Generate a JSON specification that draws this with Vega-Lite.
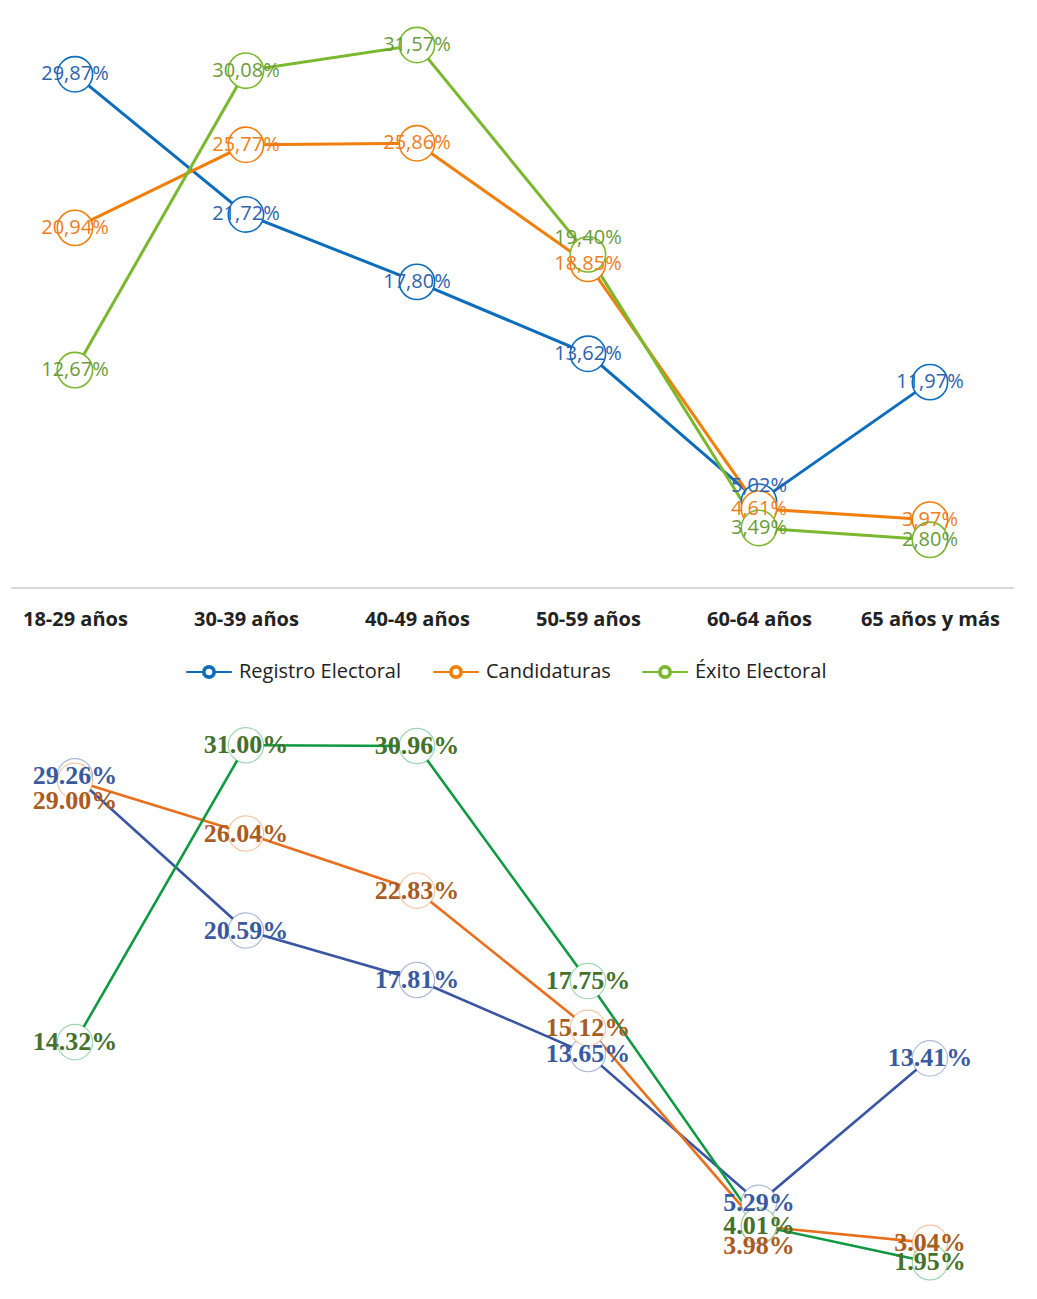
{
  "$schema": "https://vega.github.io/schema/vega-lite/v6.json",
  "background": "white",
  "padding": {"left": 10, "top": 0, "right": 0, "bottom": 0},
  "config": {"view": {"stroke": null}},
  "datasets": {
    "top": [
      {"grupo": "18-29 años", "serie": "Registro Electoral", "valor": 29.87, "etiqueta": "29,87%"},
      {"grupo": "30-39 años", "serie": "Registro Electoral", "valor": 21.72, "etiqueta": "21,72%"},
      {"grupo": "40-49 años", "serie": "Registro Electoral", "valor": 17.80, "etiqueta": "17,80%"},
      {"grupo": "50-59 años", "serie": "Registro Electoral", "valor": 13.62, "etiqueta": "13,62%"},
      {"grupo": "60-64 años", "serie": "Registro Electoral", "valor": 5.02, "etiqueta": "5,02%"},
      {"grupo": "65 años y más", "serie": "Registro Electoral", "valor": 11.97, "etiqueta": "11,97%"},
      {"grupo": "18-29 años", "serie": "Candidaturas", "valor": 20.94, "etiqueta": "20,94%"},
      {"grupo": "30-39 años", "serie": "Candidaturas", "valor": 25.77, "etiqueta": "25,77%"},
      {"grupo": "40-49 años", "serie": "Candidaturas", "valor": 25.86, "etiqueta": "25,86%"},
      {"grupo": "50-59 años", "serie": "Candidaturas", "valor": 18.85, "etiqueta": "18,85%"},
      {"grupo": "60-64 años", "serie": "Candidaturas", "valor": 4.61, "etiqueta": "4,61%"},
      {"grupo": "65 años y más", "serie": "Candidaturas", "valor": 3.97, "etiqueta": "3,97%"},
      {"grupo": "18-29 años", "serie": "Éxito Electoral", "valor": 12.67, "etiqueta": "12,67%"},
      {"grupo": "30-39 años", "serie": "Éxito Electoral", "valor": 30.08, "etiqueta": "30,08%"},
      {"grupo": "40-49 años", "serie": "Éxito Electoral", "valor": 31.57, "etiqueta": "31,57%"},
      {"grupo": "50-59 años", "serie": "Éxito Electoral", "valor": 19.40, "etiqueta": "19,40%"},
      {"grupo": "60-64 años", "serie": "Éxito Electoral", "valor": 3.49, "etiqueta": "3,49%"},
      {"grupo": "65 años y más", "serie": "Éxito Electoral", "valor": 2.80, "etiqueta": "2,80%"}
    ],
    "bottom": [
      {"grupo": "18-29 años", "serie": "Registro Electoral", "valor": 29.26, "etiqueta": "29.26%"},
      {"grupo": "30-39 años", "serie": "Registro Electoral", "valor": 20.59, "etiqueta": "20.59%"},
      {"grupo": "40-49 años", "serie": "Registro Electoral", "valor": 17.81, "etiqueta": "17.81%"},
      {"grupo": "50-59 años", "serie": "Registro Electoral", "valor": 13.65, "etiqueta": "13.65%"},
      {"grupo": "60-64 años", "serie": "Registro Electoral", "valor": 5.29, "etiqueta": "5.29%"},
      {"grupo": "65 años y más", "serie": "Registro Electoral", "valor": 13.41, "etiqueta": "13.41%"},
      {"grupo": "18-29 años", "serie": "Candidaturas", "valor": 29.00, "etiqueta": "29.00%"},
      {"grupo": "30-39 años", "serie": "Candidaturas", "valor": 26.04, "etiqueta": "26.04%"},
      {"grupo": "40-49 años", "serie": "Candidaturas", "valor": 22.83, "etiqueta": "22.83%"},
      {"grupo": "50-59 años", "serie": "Candidaturas", "valor": 15.12, "etiqueta": "15.12%"},
      {"grupo": "60-64 años", "serie": "Candidaturas", "valor": 3.98, "etiqueta": "3.98%"},
      {"grupo": "65 años y más", "serie": "Candidaturas", "valor": 3.04, "etiqueta": "3.04%"},
      {"grupo": "18-29 años", "serie": "Éxito Electoral", "valor": 14.32, "etiqueta": "14.32%"},
      {"grupo": "30-39 años", "serie": "Éxito Electoral", "valor": 31.00, "etiqueta": "31.00%"},
      {"grupo": "40-49 años", "serie": "Éxito Electoral", "valor": 30.96, "etiqueta": "30.96%"},
      {"grupo": "50-59 años", "serie": "Éxito Electoral", "valor": 17.75, "etiqueta": "17.75%"},
      {"grupo": "60-64 años", "serie": "Éxito Electoral", "valor": 4.01, "etiqueta": "4.01%"},
      {"grupo": "65 años y más", "serie": "Éxito Electoral", "valor": 1.95, "etiqueta": "1.95%"}
    ]
  },
  "vconcat": [
    {
      "width": 1003,
      "height": 588,
      "data": {"name": "top"},
      "encoding": {
        "x": {
          "field": "grupo", "type": "ordinal",
          "scale": {"type": "point", "domain": ["18-29 años", "30-39 años", "40-49 años", "50-59 años", "60-64 años", "65 años y más"], "padding": 0.4327, "align": 0.432},
          "axis": {"title": null, "domain": false, "ticks": false, "labelAngle": 0, "labelFont": "Open Sans", "labelFontSize": 20, "labelFontWeight": "bold", "labelColor": "#222222", "labelPadding": 21}
        },
        "y": {"field": "valor", "type": "quantitative", "scale": {"domain": [0, 34.19], "nice": false}, "axis": null}
      },
      "layer": [
        {
          "mark": {"type": "rule", "color": "#d9d9d9", "strokeWidth": 2},
          "encoding": {"x": {"value": 0}, "x2": {"value": "width"}, "y": {"datum": 0, "type": "quantitative"}}
        },
        {
          "mark": {"type": "line", "strokeWidth": 3},
          "encoding": {
            "stroke": {
              "field": "serie", "type": "nominal",
              "scale": {"domain": ["Registro Electoral", "Candidaturas", "Éxito Electoral"], "range": ["#0d6dbd", "#f07f0c", "#7ab82e"]},
              "legend": {
                "orient": "none", "legendX": 185, "legendY": 659, "direction": "horizontal", "title": null,
                "symbolType": "M-1.9,0L-0.5,0M0.5,0L1.9,0M0.5,0A0.5,0.5,0,1,1,-0.5,0A0.5,0.5,0,1,1,0.5,0ZM0.36,0A0.36,0.36,0,1,0,-0.36,0A0.36,0.36,0,1,0,0.36,0Z",
                "symbolSize": 576, "symbolStrokeWidth": 2,
                "labelFont": "Open Sans", "labelFontSize": 20, "labelColor": "#222222", "labelOffset": 17, "labelLimit": 400, "columnPadding": 27
              }
            }
          }
        },
        {
          "mark": {"type": "circle", "fill": "white", "fillOpacity": 1, "size": 1250, "strokeWidth": 1.6},
          "encoding": {"stroke": {"field": "serie", "type": "nominal"}}
        },
        {
          "transform": [{"filter": "!(datum.serie == 'Éxito Electoral' && datum.grupo == '50-59 años') && !(datum.serie == 'Registro Electoral' && datum.grupo == '60-64 años')"}],
          "mark": {"type": "text", "font": "Open Sans", "fontSize": 20, "align": "center", "baseline": "middle"},
          "encoding": {
            "text": {"field": "etiqueta"},
            "fill": {"field": "serie", "type": "nominal", "scale": {"domain": ["Registro Electoral", "Candidaturas", "Éxito Electoral"], "range": ["#2e62ad", "#ee7d22", "#6b9b3a"]}, "legend": null}
          }
        },
        {
          "transform": [{"filter": "(datum.serie == 'Éxito Electoral' && datum.grupo == '50-59 años') || (datum.serie == 'Registro Electoral' && datum.grupo == '60-64 años')"}],
          "mark": {"type": "text", "font": "Open Sans", "fontSize": 20, "align": "center", "baseline": "middle", "dy": -16},
          "encoding": {
            "text": {"field": "etiqueta"},
            "fill": {"field": "serie", "type": "nominal", "legend": null}
          }
        }
      ]
    },
    {
      "width": 1003,
      "height": 587,
      "data": {"name": "bottom"},
      "encoding": {
        "x": {
          "field": "grupo", "type": "ordinal",
          "scale": {"type": "point", "domain": ["18-29 años", "30-39 años", "40-49 años", "50-59 años", "60-64 años", "65 años y más"], "padding": 0.4327, "align": 0.432},
          "axis": null
        },
        "y": {"field": "valor", "type": "quantitative", "scale": {"domain": [0, 32.98], "nice": false}, "axis": null}
      },
      "layer": [
        {
          "mark": {"type": "line", "strokeWidth": 2.6},
          "encoding": {
            "stroke": {
              "field": "serie", "type": "nominal",
              "scale": {"domain": ["Registro Electoral", "Candidaturas", "Éxito Electoral"], "range": ["#3a56a3", "#e8701c", "#0f9a42"]},
              "legend": null
            },
            "strokeWidth": {
              "field": "serie", "type": "nominal",
              "scale": {"domain": ["Registro Electoral", "Candidaturas", "Éxito Electoral"], "range": [2.5, 2.5, 3.5]},
              "legend": null
            }
          }
        },
        {
          "mark": {"type": "circle", "fill": "white", "fillOpacity": 1, "size": 1250, "strokeWidth": 1.2, "strokeOpacity": 0.4},
          "encoding": {"stroke": {"field": "serie", "type": "nominal", "legend": null}}
        },
        {
          "transform": [{"filter": "!(datum.serie == 'Candidaturas' && (datum.grupo == '18-29 años' || datum.grupo == '60-64 años'))"}],
          "mark": {"type": "text", "font": "Liberation Serif", "fontSize": 26, "fontWeight": "bold", "align": "center", "baseline": "middle"},
          "encoding": {
            "text": {"field": "etiqueta"},
            "fill": {"field": "serie", "type": "nominal", "scale": {"domain": ["Registro Electoral", "Candidaturas", "Éxito Electoral"], "range": ["#3a5a9e", "#a95c22", "#44712c"]}, "legend": null}
          }
        },
        {
          "transform": [{"filter": "datum.serie == 'Candidaturas' && (datum.grupo == '18-29 años' || datum.grupo == '60-64 años')"}],
          "mark": {"type": "text", "font": "Liberation Serif", "fontSize": 26, "fontWeight": "bold", "align": "center", "baseline": "middle", "dy": 20},
          "encoding": {
            "text": {"field": "etiqueta"},
            "fill": {"field": "serie", "type": "nominal", "legend": null}
          }
        }
      ]
    }
  ],
  "spacing": 28,
  "resolve": {
    "scale": {"x": "independent", "y": "independent", "stroke": "independent", "fill": "independent", "strokeWidth": "independent"}
  }
}
